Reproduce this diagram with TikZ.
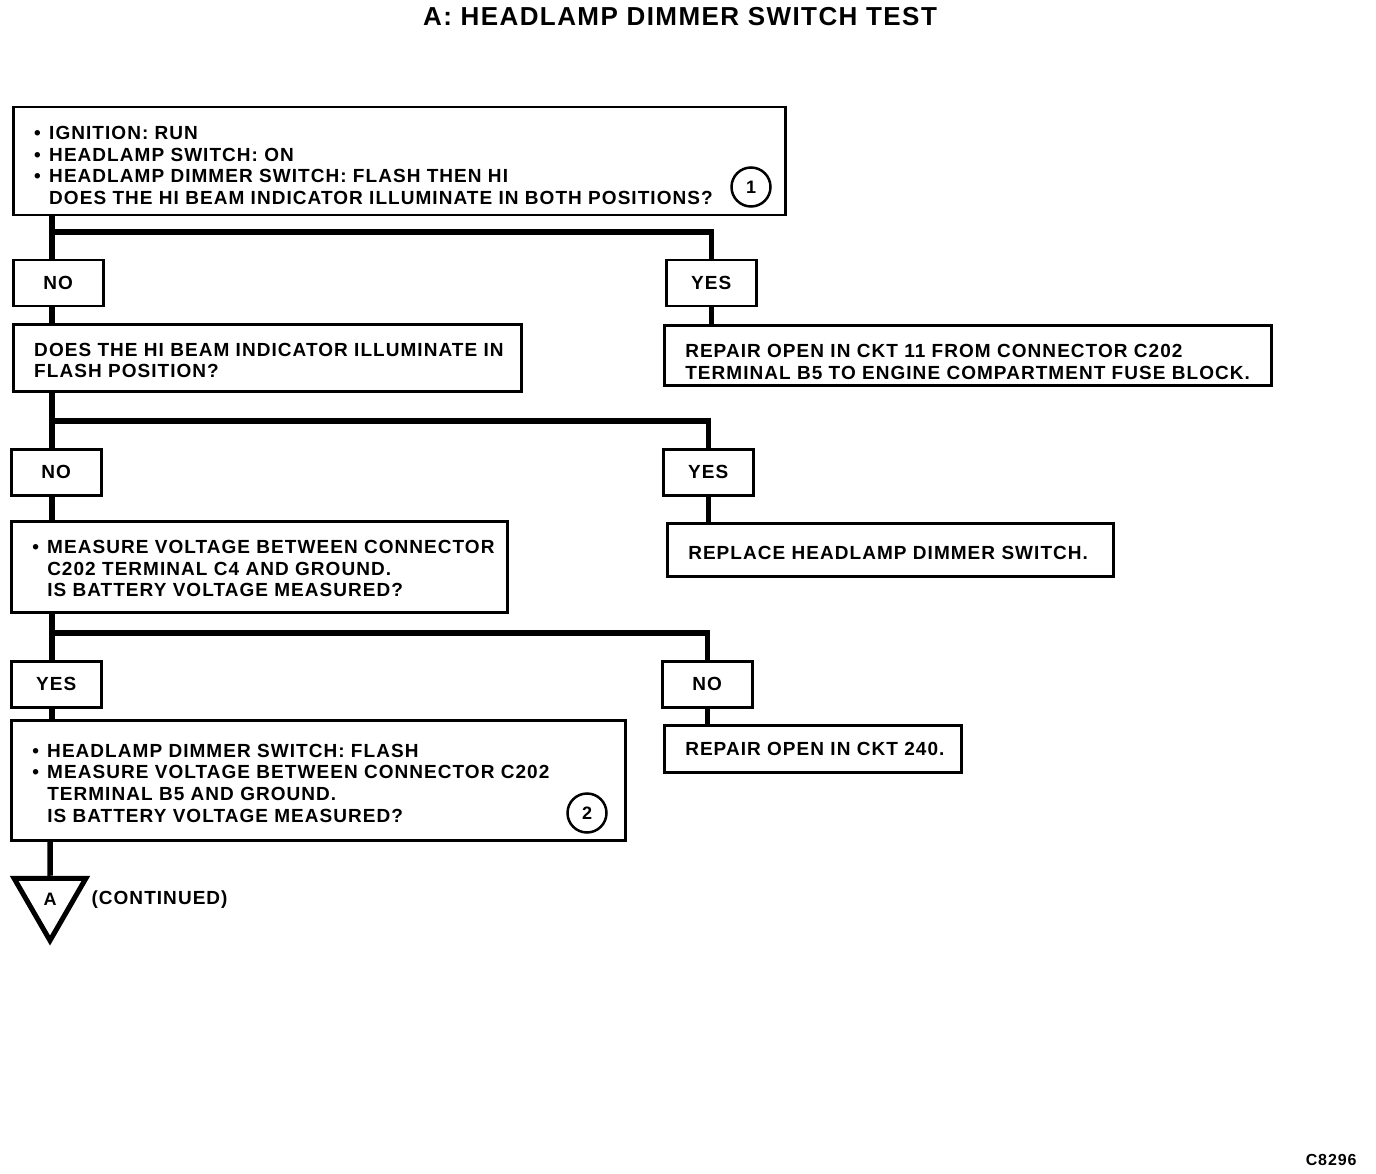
\documentclass[tikz,border=0pt]{standalone}
\usepackage{fontspec}
\setmainfont{Liberation Sans}[LetterSpace=5.5]
\usepackage{tikz}
\usetikzlibrary{shapes.geometric}
\newcommand{\bul}{\makebox[15pt][l]{\textbullet}}
\newcommand{\ind}{\hspace*{15pt}}
% fixed-width block of lines, set a little low in its box
\newcommand{\lines}[3][4pt]{\raisebox{-#1}[\height][\depth]{\makebox[#2][l]{\begin{tabular}{@{}l@{}}#3\end{tabular}}}}

\begin{document}
\begin{tikzpicture}[x=1pt, y=-1pt,
  font=\fontsize{19}{21.7}\selectfont\bfseries,
  qbox/.style={draw, line width=2.5pt, anchor=north west, inner xsep=21pt, inner ysep=4pt},
  ansbox/.style={draw, line width=2.5pt, anchor=north west, minimum width=90pt, minimum height=46pt, inner sep=0pt},
  stepno/.style={circle, draw, line width=2.5pt, minimum size=39pt, inner sep=0pt, font=\fontsize{18}{18}\selectfont\bfseries},
  link/.style={line width=5.5pt}]
\useasboundingbox (0,0) rectangle (1376,1174);
\node[font=\fontsize{26}{26}\selectfont\bfseries] (title) at (680,17) {A: HEADLAMP DIMMER SWITCH TEST};
% first check
\node[qbox, minimum height=108pt] (q1) at (12,106)
  {\lines[6.5pt]{730pt}{\bul IGNITION: RUN\\ \bul HEADLAMP SWITCH: ON\\ \bul HEADLAMP DIMMER SWITCH: FLASH THEN HI\\
   \ind DOES THE HI BEAM INDICATOR ILLUMINATE IN BOTH POSITIONS?}};
\node[stepno] (s1) at (751,187) {1};
\node[ansbox] (no1) at (12,259) {NO};
\node[ansbox] (yes1) at (665,259) {YES};
\node[qbox, minimum height=67pt] (q2) at (12,323)
  {\lines[5pt]{466pt}{DOES THE HI BEAM INDICATOR ILLUMINATE IN\\ FLASH POSITION?}};
\node[qbox, minimum height=60pt] (r1) at (663,324)
  {\lines[9pt]{565pt}{REPAIR OPEN IN CKT 11 FROM CONNECTOR C202\\ TERMINAL B5 TO ENGINE COMPARTMENT FUSE BLOCK.}};
% second check
\node[ansbox] (no2) at (10,448) {NO};
\node[ansbox] (yes2) at (662,448) {YES};
\node[qbox, minimum height=91pt] (q3) at (10,520)
  {\lines{454pt}{\bul MEASURE VOLTAGE BETWEEN CONNECTOR\\ \ind C202 TERMINAL C4 AND GROUND.\\ \ind IS BATTERY VOLTAGE MEASURED?}};
\node[qbox, minimum height=53pt] (r2) at (666,522)
  {\lines[5pt]{404pt}{REPLACE HEADLAMP DIMMER SWITCH.}};
% third check
\node[ansbox] (yes3) at (10,660) {YES};
\node[ansbox] (no3) at (661,660) {NO};
\node[qbox, minimum height=120pt] (q4) at (10,719)
  {\lines[5pt]{572pt}{\bul HEADLAMP DIMMER SWITCH: FLASH\\ \bul MEASURE VOLTAGE BETWEEN CONNECTOR C202\\
   \ind TERMINAL B5 AND GROUND.\\ \ind IS BATTERY VOLTAGE MEASURED?}};
\node[stepno] (s2) at (587,813) {2};
\node[qbox, minimum height=47pt] (r3) at (663,724)
  {\lines[2pt]{255pt}{REPAIR OPEN IN CKT 240.}};
% continuation
\node[regular polygon, regular polygon sides=3, shape border rotate=180, draw, line width=5pt,
  minimum size=83pt, inner sep=0pt, font=\fontsize{18}{18}\selectfont\bfseries] (tri) at (50,899) {A};
\node[anchor=west] (cont) at (88,900) {(CONTINUED)};
\node[anchor=east, font=\fontsize{16}{16}\selectfont\bfseries] (code) at (1360,1160) {C8296};
% connectors
\coordinate (j1) at (52,232);
\coordinate (j2) at (52,421);
\coordinate (j3) at (52,633);
\draw[link] (q1.south -| j1) -- (no1.north -| j1);
\draw[link] (j1) -| (yes1.north);
\draw[link] (no1.south -| j1) -- (q2.north -| j1);
\draw[link] (yes1.south) -- (r1.north -| yes1.south);
\draw[link] (q2.south -| j2) -- (no2.north -| j2);
\draw[link] (j2) -| (yes2.north);
\draw[link] (no2.south -| j2) -- (q3.north -| j2);
\draw[link] (yes2.south) -- (r2.north -| yes2.south);
\draw[link] (q3.south -| j3) -- (yes3.north -| j3);
\draw[link] (j3) -| (no3.north);
\draw[link] (yes3.south -| j3) -- (q4.north -| j3);
\draw[link] (no3.south) -- (r3.north -| no3.south);
\draw[link] (q4.south -| tri) -- (tri.north);
\end{tikzpicture}
\end{document}
